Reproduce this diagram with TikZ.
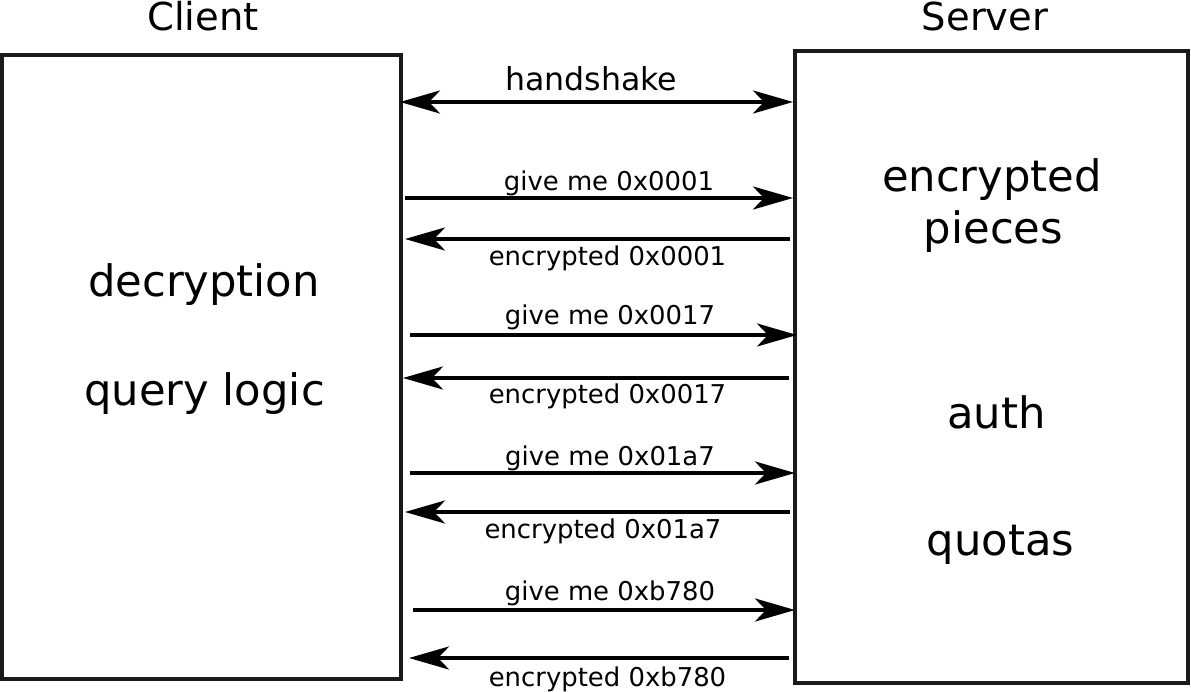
\documentclass[tikz,border=0pt]{standalone}
\usepackage{fontspec}
\setmainfont{DejaVu Sans}
\usetikzlibrary{arrows.meta}
\definecolor{boxline}{HTML}{1A1A1A}
\tikzset{
  boxnode/.style={draw=boxline, line width=4pt, inner sep=0pt, outer sep=0pt, fill=white},
  title/.style={anchor=base, inner sep=0pt, font=\fontsize{38.5}{46}\selectfont},
  big/.style={anchor=base, inner sep=0pt, font=\fontsize{43.3}{52}\selectfont},
  lbl/.style={anchor=base, inner sep=0pt, font=\fontsize{25.9}{31}\selectfont},
  hlbl/.style={anchor=base, inner sep=0pt, font=\fontsize{31.6}{38}\selectfont},
  msg/.style={line width=4pt, -{Stealth[length=40pt, width=23pt, inset=11pt]}},
  dmsg/.style={line width=4pt, {Stealth[length=40pt, width=23pt, inset=11pt]}-{Stealth[length=40pt, width=23pt, inset=11pt]}}
}
\begin{document}
\begin{tikzpicture}[x=1pt,y=-1pt]
\useasboundingbox (0,0) rectangle (1191,692);
% boxes
\node[boxnode, minimum width=399pt, minimum height=624pt] (client) at (201.5,367) {};
\node[boxnode, minimum width=393pt, minimum height=632pt] (server) at (991.5,367) {};
% titles
\node[title] (tclient) at (203,31) {Client};
\node[title] (tserver) at (985,31) {Server};
% client contents
\node[big] (decr) at (204,297) {decryption};
\node[big] (qlog) at (204.5,405) {query logic};
% server contents
\node[big] (encp) at (992,192) {encrypted};
\node[big] (pieces) at (993.5,244) {pieces};
\node[big] (auth) at (996.5,428) {auth};
\node[big] (quotas) at (1000.5,555) {quotas};
% endpoints
\coordinate (h0) at (400,102);   \coordinate (h1) at (793,102);
\coordinate (a0) at (405,198);   \coordinate (a1) at (793,198);
\coordinate (b0) at (790,239);   \coordinate (b1) at (405,239);
\coordinate (c0) at (410,335);   \coordinate (c1) at (797,335);
\coordinate (d0) at (789,378);   \coordinate (d1) at (403,378);
\coordinate (e0) at (410,473);   \coordinate (e1) at (795,473);
\coordinate (f0) at (790,512);   \coordinate (f1) at (405,512);
\coordinate (g0) at (413,610);   \coordinate (g1) at (795,610);
\coordinate (k0) at (789,658);   \coordinate (k1) at (409,658);
% arrows
\draw[dmsg] (h0) -- (h1);
\draw[msg] (a0) -- (a1);
\draw[msg] (b0) -- (b1);
\draw[msg] (c0) -- (c1);
\draw[msg] (d0) -- (d1);
\draw[msg] (e0) -- (e1);
\draw[msg] (f0) -- (f1);
\draw[msg] (g0) -- (g1);
\draw[msg] (k0) -- (k1);
% labels
\node[hlbl] (lh) at (591,91) {handshake};
\node[lbl] (la) at (609,191) {give me 0x0001};
\node[lbl] (lb) at (607.5,266) {encrypted 0x0001};
\node[lbl] (lc) at (610,325) {give me 0x0017};
\node[lbl] (ld) at (607.5,403) {encrypted 0x0017};
\node[lbl] (le) at (610,465) {give me 0x01a7};
\node[lbl] (lf) at (603,538) {encrypted 0x01a7};
\node[lbl] (lg) at (610,600) {give me 0xb780};
\node[lbl] (lk) at (607.5,686) {encrypted 0xb780};
\end{tikzpicture}
\end{document}
